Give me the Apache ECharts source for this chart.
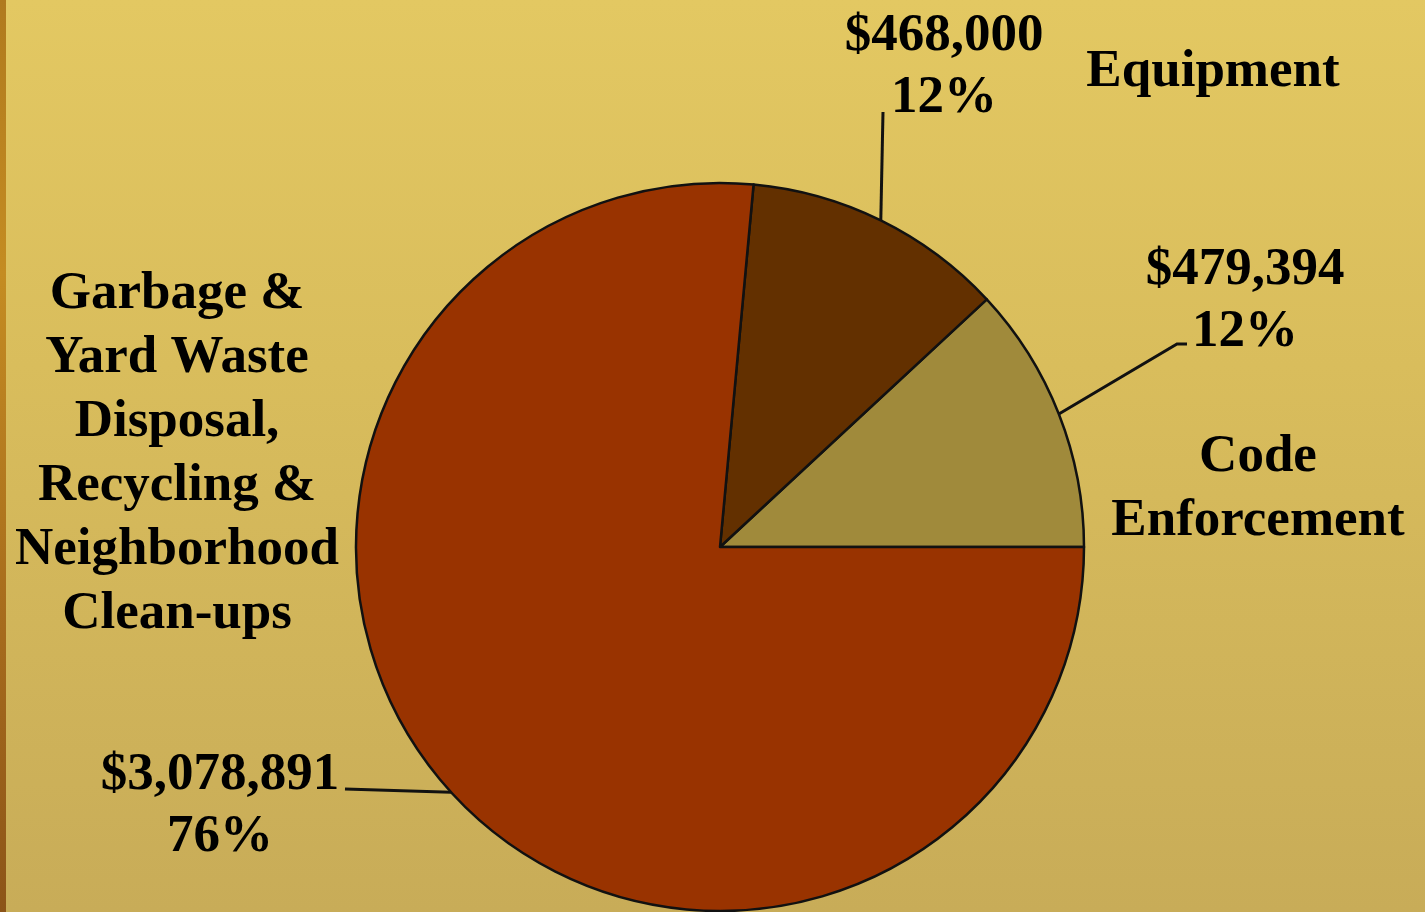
<!DOCTYPE html>
<html>
<head>
<meta charset="utf-8">
<title>Budget pie</title>
<script src="https://cdn.jsdelivr.net/npm/echarts@6/dist/echarts.min.js"></script>
<style>
html, body { margin: 0; padding: 0; }
body { width: 1425px; height: 912px; overflow: hidden; background: linear-gradient(#e3c862, #d9bd5c 40%, #c8ac58); }
#strip { position: absolute; left: 0; top: 0; width: 6px; height: 912px; background: linear-gradient(#b07a1e, #c48c22 30%, #a56a1c 70%, #8c5418); }
#main { position: absolute; left: 0; top: 0; width: 1425px; height: 912px; }
</style>
</head>
<body>
<div id="strip"></div>
<div id="main"></div>
<script>
var categories = ['Code Enforcement', 'Equipment', 'Garbage & Yard Waste Disposal, Recycling & Neighborhood Clean-ups'];
var nameLines = [
    ['Code', 'Enforcement'],
    ['Equipment'],
    ['Garbage &', 'Yard Waste', 'Disposal,', 'Recycling &', 'Neighborhood', 'Clean-ups']
];
var amounts = [479394, 468000, 3078891];
var sliceColors = ['#a08a3b', '#633000', '#993300'];

// where the labels sit (layout only)
var valuePos = [[1245, 301], [944, 67], [220, 806]];
var lineEnds = [[[1177, 344], [1187, 344]], [[883, 112], [883, 112]], [[345, 789], [345, 789]]];
var namePos = [[1258, 489], [1213, 72], [177, 454]];

var font = "'Liberation Serif', 'Times New Roman', serif";

function money(v) {
    return '$' + String(v).replace(/\B(?=(\d{3})+(?!\d))/g, ',');
}

var pieData = categories.map(function (c, i) {
    return { name: c, value: amounts[i], itemStyle: { color: sliceColors[i] } };
});

var chart = echarts.init(document.getElementById('main'));

chart.setOption({
    backgroundColor: 'transparent',
    animation: false,
    series: [
        {
            type: 'pie',
            center: [720, 547],
            radius: 364,
            startAngle: 0,
            clockwise: false,
            avoidLabelOverlap: false,
            silent: true,
            itemStyle: { borderColor: '#111', borderWidth: 2.5 },
            label: {
                show: true,
                position: 'outside',
                fontFamily: font,
                fontWeight: 'bold',
                fontSize: 53,
                lineHeight: 62,
                color: '#000',
                formatter: function (p) {
                    return money(p.value) + '\n' + Math.round(p.percent) + '%';
                }
            },
            labelLine: { show: true, lineStyle: { color: '#111', width: 3 } },
            labelLayout: function (params) {
                var i = params.dataIndex;
                var pts = params.labelLinePoints;
                return {
                    x: valuePos[i][0],
                    y: valuePos[i][1],
                    align: 'center',
                    verticalAlign: 'middle',
                    labelLinePoints: [pts[0], lineEnds[i][0], lineEnds[i][1]]
                };
            },
            data: pieData
        },
        {
            type: 'pie',
            center: [720, 547],
            radius: 364,
            startAngle: 0,
            clockwise: false,
            avoidLabelOverlap: false,
            silent: true,
            itemStyle: { color: 'rgba(0,0,0,0)', borderWidth: 0 },
            label: {
                show: true,
                position: 'outside',
                fontFamily: font,
                fontWeight: 'bold',
                fontSize: 53,
                lineHeight: 64,
                color: '#000',
                formatter: function (p) {
                    return nameLines[p.dataIndex].join('\n');
                }
            },
            labelLine: { show: false },
            labelLayout: function (params) {
                var i = params.dataIndex;
                return {
                    x: namePos[i][0],
                    y: namePos[i][1],
                    align: 'center',
                    verticalAlign: 'middle'
                };
            },
            data: categories.map(function (c, i) {
                return { name: c, value: amounts[i] };
            })
        }
    ]
});
</script>
</body>
</html>
